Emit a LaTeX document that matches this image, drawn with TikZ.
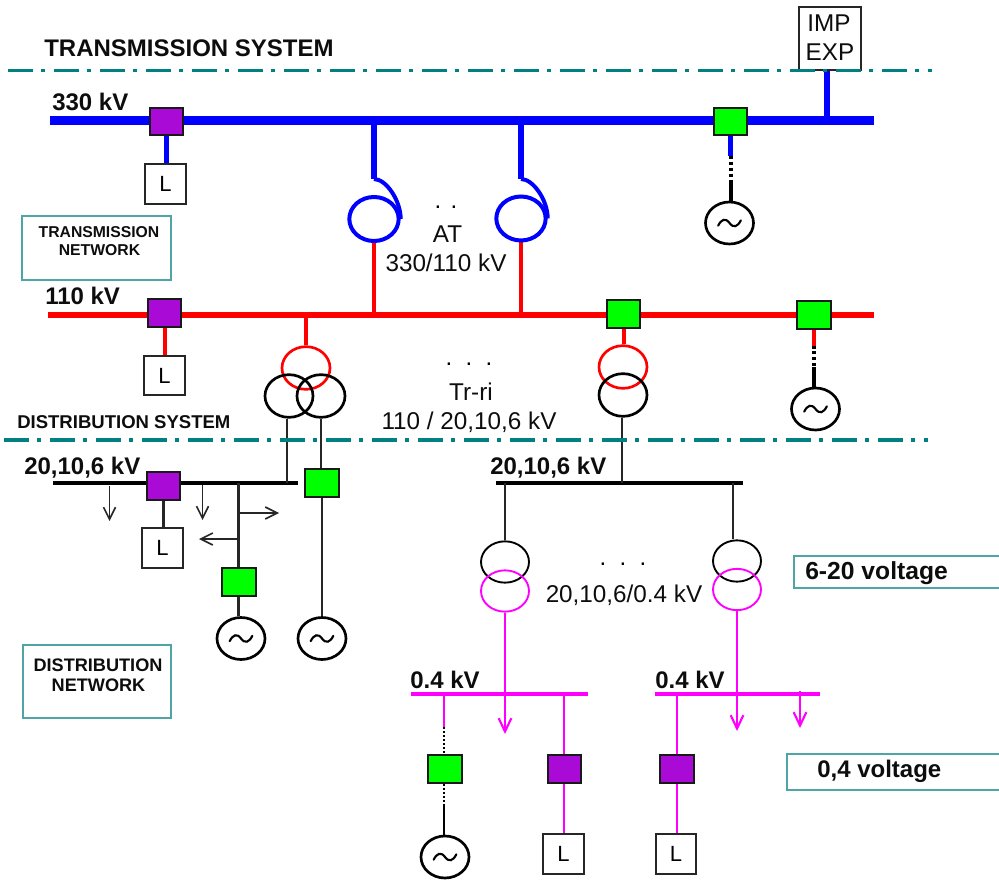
\documentclass[tikz,border=0pt]{standalone}
\usepackage{fontspec}
\setmainfont{Liberation Sans}
\usetikzlibrary{shapes.geometric,arrows.meta,backgrounds}
\definecolor{busblue}{HTML}{0000FF}
\definecolor{busred}{HTML}{FF0000}
\definecolor{busmag}{HTML}{FF00FF}
\definecolor{brkpurple}{HTML}{A90AD6}
\definecolor{brkgreen}{HTML}{00FF00}
\definecolor{divteal}{HTML}{008080}
\definecolor{boxteal}{HTML}{4FA5A5}
\tikzset{
  brk/.style={draw=black!90,line width=1.4pt,minimum width=25pt,minimum height=20.5pt,inner sep=0pt},
  brkP/.style={brk,fill=brkpurple},
  brkG/.style={brk,fill=brkgreen},
  loadbox/.style={draw=black!85,fill=white,line width=1.4pt,minimum width=30.5pt,minimum height=29.5pt,inner sep=0pt,font=\fontsize{16.5}{18}\selectfont},
  gen/.style={ellipse,draw=black,fill=white,line width=2pt,minimum width=36pt,minimum height=31.5pt,inner sep=0pt,
    path picture={\draw[line width=1.6pt,line cap=round,black]
      ([xshift=-8.5pt,yshift=-2pt]path picture bounding box.center) .. controls +(2.5pt,5pt) and +(-3pt,4pt) ..
      ([xshift=0pt,yshift=0pt]path picture bounding box.center) .. controls +(3pt,-4pt) and +(-2.5pt,-5pt) ..
      ([xshift=8.5pt,yshift=2pt]path picture bounding box.center);}},
  coil/.style={ellipse,minimum width=36pt,minimum height=32pt,inner sep=0pt,line width=2pt},
  coilA/.style={coil,line width=3pt,minimum width=37pt,minimum height=33pt},
  coilS/.style={coil,minimum height=31pt,line width=1.4pt},
  divline/.style={divteal,line width=2.4pt,dash pattern=on 18.8pt off 6.2pt on 2.6pt off 6.9pt},
  netbox/.style={boxteal,line width=1.1pt},
  blab/.style={anchor=base west,inner sep=0pt,font=\fontsize{18}{20}\bfseries\selectfont,text=black!95},
  sysB/.style={anchor=base west,inner sep=0pt,font=\fontsize{13.9}{15}\bfseries\selectfont,text=black!95},
  netT/.style={anchor=base,inner sep=0pt,font=\fontsize{11.8}{14}\bfseries\selectfont,text=black!95},
  netD/.style={anchor=base,inner sep=0pt,font=\fontsize{13.6}{15}\bfseries\selectfont,text=black!95},
  rlab/.style={anchor=base,inner sep=0pt,font=\fontsize{18.2}{20}\selectfont,text=black!95},
  dotlab/.style={anchor=base,inner sep=0pt,font=\fontsize{18}{20}\selectfont,text=black},
  busA/.style={busblue,line width=6.75pt},
  busB/.style={busred,line width=4.5pt},
  busC/.style={black,line width=3pt},
  busD/.style={busmag,line width=3pt},
  fdA/.style={busblue,line width=3.8pt},
  fdAc/.style={busblue,line width=3pt},
  fdB/.style={busred,line width=3pt},
  fdC/.style={black!85,line width=1.7pt},
  fdD/.style={busmag,line width=1.9pt},
  dotK/.style={black,line width=3pt,dash pattern=on 2.2pt off 2.2pt},
  dotL/.style={black,line width=1.9pt,dash pattern=on 1.5pt off 1.5pt},
  solK/.style={black,line width=3pt},
  tipK/.style={-{Straight Barb[length=9pt,width=9pt,line width=1.2pt]},black!85,line width=1.2pt},
  tipM/.style={-{Straight Barb[length=10pt,width=9.5pt,line width=1.6pt]},busmag,line width=1.6pt},
}
\begin{document}
\begin{tikzpicture}[x=0.75pt,y=-0.75pt]
\useasboundingbox (0,0) rectangle (999,880);

% ---------- named points on the buses
\coordinate (a1) at (50,121);   \coordinate (a2) at (874,121);
\coordinate (b1) at (48,315);   \coordinate (b2) at (874,315);
\coordinate (c1) at (53,483);   \coordinate (c2) at (298,483);
\coordinate (d1) at (496,483);  \coordinate (d2) at (743,483);
\coordinate (e1) at (411,694);  \coordinate (e2) at (588,694);
\coordinate (f1) at (655,694);  \coordinate (f2) at (820,694);
\coordinate (atA) at (374,121); \coordinate (atB) at (521,121);
\coordinate (impB) at (827,121);
\coordinate (trB) at (306,315);
\coordinate (trCa) at (287,483);
\coordinate (trDa) at (622,483);
\coordinate (branch) at (238.5,483);
\coordinate (dA) at (505,483);  \coordinate (dB) at (733,483);
\coordinate (eA) at (444,694);  \coordinate (eB) at (564,694);
\coordinate (fA) at (677,694);
\coordinate (eT) at (505,694);  \coordinate (fT) at (737,694);

% ---------- boxes and breakers
\node[loadbox,minimum width=47pt,minimum height=47pt] (imp) at (830,38.5) {};
\node[rlab,anchor=base] (impT) at (829,32) {IMP};
\node[rlab,anchor=base] (expT) at (830,61) {EXP};

\node[brkP] (p1) at (166.5,121.5) {};
\node[brkG] (g1) at (730.5,121.5) {};
\node[brkP] (p2) at (164.5,313) {};
\node[brkG] (g2) at (623.5,314) {};
\node[brkG] (g3) at (814,315) {};
\node[brkP] (p3) at (163.5,486) {};
\node[brkG] (g4) at (322,483) {};
\node[brkG] (g5) at (239,582) {};
\node[brkG] (g6) at (445,769) {};
\node[brkP] (p4) at (564.5,769) {};
\node[brkP] (p5) at (677,769) {};

\node[loadbox] (l1) at (165.5,184) {L};
\node[loadbox] (l2) at (164.5,375.5) {L};
\node[loadbox] (l3) at (162.5,548) {L};
\node[loadbox] (l4) at (563.5,854) {L};
\node[loadbox] (l5) at (676,854) {L};

\node[gen] (s1) at (729.5,223) {};
\node[gen] (s2) at (815.5,409) {};
\node[gen] (s3) at (241,638.5) {};
\node[gen] (s4) at (322,638.5) {};
\node[gen] (s5) at (445,857) {};

% ---------- transformer windings
\node[coilA,draw=busblue] (at1) at (374,219) {};
\node[coilA,draw=busblue] (at2) at (521,218.5) {};
\node[coil,draw=busred] (tr1) at (306,368) {};
\node[coil,draw=black] (tr2) at (289,396) {};
\node[coil,draw=black] (tr3) at (321,396) {};
\node[coil,draw=busred] (tr4) at (623,367) {};
\node[coil,draw=black] (tr5) at (623,395) {};
\node[coilS,draw=black] (d1t) at (505,562) {};
\node[coilS,draw=busmag] (d1b) at (505,591) {};
\node[coilS,draw=black] (d2t) at (737,561) {};
\node[coilS,draw=busmag] (d2b) at (737,589.5) {};

\begin{scope}[on background layer]
  % buses
  \draw[busA] (a1) -- (a2);
  \draw[busB] (b1) -- (b2);
  \draw[busC] (c1) -- (c2);
  \draw[busC] (d1) -- (d2);
  \draw[busD] (e1) -- (e2);
  \draw[busD] (f1) -- (f2);
  % 330 kV connections
  \draw[fdA] (p1.south) -- (p1.south |- l1.north);
  \draw[fdA] (atA) -- ++(0,58) coordinate (hk1);
  \draw[fdA] (atB) -- ++(0,58) coordinate (hk2);
  \draw[fdAc] (hk1) .. controls +(12,0) and ([yshift=14pt]at1.east) .. (at1.east);
  \draw[fdAc] (hk2) .. controls +(12,0) and ([yshift=14pt]at2.east) .. (at2.east);
  \draw[fdB] (at1.south) -- (at1.south |- b1);
  \draw[fdB] (at2.south) -- (at2.south |- b1);
  \draw[fdA] (g1.south) -- ++(0,20) coordinate (g1a);
  \draw[dotK] (g1a) -- ++(0,25) coordinate (g1b);
  \draw[solK] (g1b) -- (g1b |- s1.north);
  % 110 kV connections
  \draw[fdB] (p2.south) -- (p2.south |- l2.north);
  \draw[fdB] (trB) -- (tr1.north);
  \draw[fdB] (g2.south) -- (g2.south |- tr4.north);
  \draw[fdB] (g3.south) -- ++(0,16) coordinate (g3a);
  \draw[dotK] (g3a) -- ++(0,21) coordinate (g3b);
  \draw[solK] (g3b) -- (g3b |- s2.north);
  % 20,10,6 kV connections
  \draw[fdC] (tr2.south -| trCa) -- (trCa);
  \draw[fdC] (tr3.south) -- (g4.north -| tr3.south);
  \draw[fdC] (g4.south) -- (s4.north);
  \draw[fdC] (trDa |- tr5.south) -- (trDa);
  \draw[fdC] (p3.south) -- (p3.south |- l3.north);
  \draw[fdC] (branch) -- (branch |- g5.north);
  \draw[fdC] (branch |- g5.south) -- (branch |- s3.north);
  \draw[fdC] (dA) -- (dA |- d1t.north);
  \draw[fdC] (dB) -- (dB |- d2t.north);
  % 0.4 kV connections
  \draw[fdD] (d1b.south) -- (eT);
  \draw[fdD] (d2b.south) -- (fT);
  \draw[fdD] (eA) -- ++(0,33) coordinate (eAa);
  \draw[dotL] (eAa) -- (eAa |- g6.north);
  \draw[dotL] (eAa |- g6.south) -- ++(0,22) coordinate (g6a);
  \draw[black,line width=1.9pt] (g6a) -- (g6a |- s5.north);
  \draw[fdD] (eB) -- (eB |- p4.north);
  \draw[fdD] (eB |- p4.south) -- (eB |- l4.north);
  \draw[fdD] (fA) -- (fA |- p5.north);
  \draw[fdD] (fA |- p5.south) -- (fA |- l5.north);
  % IMP/EXP feeder
  \draw[fdA] (impB) -- (impB |- imp.south);
\end{scope}

% ---------- divider lines
\coordinate (t1) at (8,70.5);  \coordinate (t2) at (932,70.5);
\coordinate (u1) at (4,440);   \coordinate (u2) at (928,440);
\draw[divline] (t1) -- (t2);
\begin{scope}[on background layer]
  \draw[divline] (u1) -- (u2);
\end{scope}

% ---------- load arrows
\coordinate (ar1a) at (109.5,486); \coordinate (ar1b) at (109.5,521);
\coordinate (ar2a) at (202.5,485); \coordinate (ar2b) at (202.5,520);
\coordinate (ar3a) at (240,513);   \coordinate (ar3b) at (279,513);
\coordinate (ar4a) at (238,539);   \coordinate (ar4b) at (199,539);
\draw[tipK] (ar1a) -- (ar1b);
\draw[tipK] (ar2a) -- (ar2b);
\draw[tipK] (ar3a) -- (ar3b);
\draw[tipK] (ar4a) -- (ar4b);
\coordinate (ar5b) at (505,734);
\coordinate (ar6b) at (737,731);
\coordinate (ar7a) at (800,691); \coordinate (ar7b) at (800,728);
\draw[tipM] (eT) -- (ar5b);
\draw[tipM] (fT) -- (ar6b);
\draw[tipM] (ar7a) -- (ar7b);

% ---------- open and closed labelled boxes
\draw[netbox] (22,216) rectangle (171,280);
\draw[netbox] (23,645) rectangle (171,718);
\draw[netbox] (999,556) -- (794,556) -- (794,588) -- (999,588);
\draw[netbox] (999,754) -- (787,754) -- (787,790) -- (999,790);

% ---------- text
\node[blab] (tTS) at (44,57) {TRANSMISSION SYSTEM};
\node[blab] (t330) at (52,111) {330 kV};
\node[blab] (t110) at (45,305) {110 kV};
\node[sysB] (tDS) at (17,428) {DISTRIBUTION SYSTEM};
\node[blab] (t20a) at (24,474) {20,10,6 kV};
\node[blab] (t20b) at (490,474) {20,10,6 kV};
\node[blab] (t04a) at (410,688) {0.4 kV};
\node[blab] (t04b) at (655,688) {0.4 kV};
\node[blab,font=\fontsize{18.5}{20}\bfseries\selectfont] (t620) at (805,579) {6-20 voltage};
\node[blab] (t04v) at (817,777) {0,4 voltage};
\node[netT] (tTN1) at (99,238) {TRANSMISSION};
\node[netT] (tTN2) at (99.5,256) {NETWORK};
\node[netD] (tDN1) at (98,671) {DISTRIBUTION};
\node[netD] (tDN2) at (98.5,691) {NETWORK};
\node[dotlab] (dots1) at (446,209) {.\hspace{7pt}.};
\node[rlab] (tAT) at (447.5,243) {AT};
\node[rlab] (tAT2) at (446,272) {330/110 kV};
\node[dotlab] (dots2) at (469,366) {.\hspace{10pt}.\hspace{10pt}.};
\node[rlab] (tTr) at (471,400) {Tr-ri};
\node[rlab] (tTr2) at (469,429) {110 / 20,10,6 kV};
\node[dotlab] (dots3) at (623,565) {.\hspace{10pt}.\hspace{10pt}.};
\node[rlab] (tD) at (624,602) {20,10,6/0.4 kV};
\end{tikzpicture}
\end{document}
